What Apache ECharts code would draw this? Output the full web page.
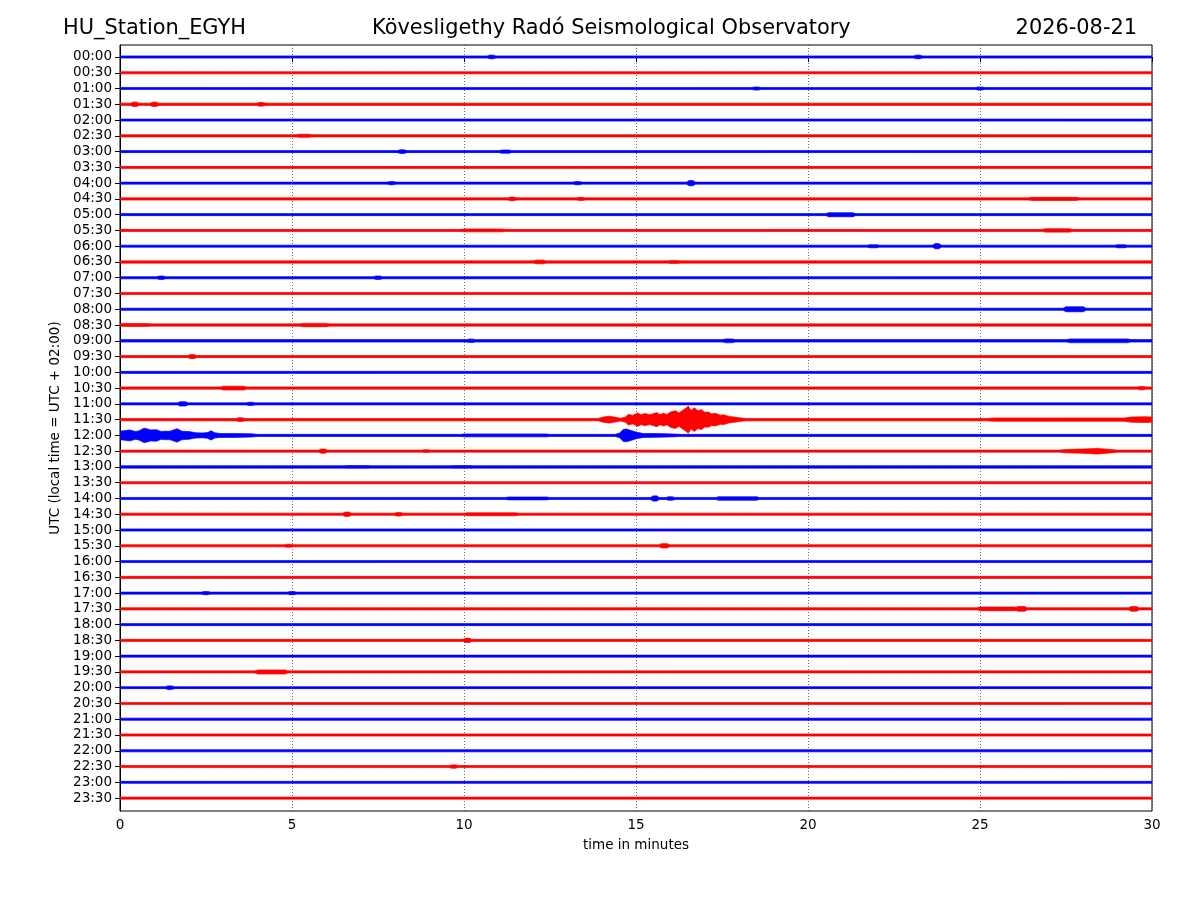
<!DOCTYPE html>
<html>
<head>
<meta charset="utf-8">
<script src="https://cdn.jsdelivr.net/npm/echarts@6/dist/echarts.min.js"></script>
<style>
html,body{margin:0;padding:0;background:#fff;}
#chart{width:1200px;height:900px;}
</style>
</head>
<body>
<div id="chart"></div>
<script>
// ---- tick labels (one trace every 30 min) ----
const traceLabels = ['00:00','00:30','01:00','01:30','02:00','02:30','03:00','03:30','04:00','04:30',
  '05:00','05:30','06:00','06:30','07:00','07:30','08:00','08:30','09:00','09:30',
  '10:00','10:30','11:00','11:30','12:00','12:30','13:00','13:30','14:00','14:30',
  '15:00','15:30','16:00','16:30','17:00','17:30','18:00','18:30','19:00','19:30',
  '20:00','20:30','21:00','21:30','22:00','22:30','23:00','23:30'];
const xTicks = [0, 5, 10, 15, 20, 25, 30];
const traceColors = ['#0000ff', '#ff0000'];

// ---- background noise half-amplitude per trace (trace spacing = 1) ----
const baseAmplitude = [0.09,0.09,0.09,0.095,0.09,0.095,0.09,0.09,0.09,0.095,
  0.09,0.095,0.09,0.1,0.09,0.095,0.09,0.1,0.1,0.095,
  0.09,0.095,0.09,0.1,0.095,0.09,0.1,0.09,0.09,0.095,
  0.09,0.09,0.09,0.09,0.09,0.095,0.09,0.09,0.09,0.09,
  0.09,0.09,0.09,0.09,0.09,0.09,0.09,0.09];

// ---- small bursts: [trace, start min, end min, half-amplitude] ----
const bumps = [
  [0,10.75,10.85,0.15],[0,23.15,23.25,0.15],
  [2,18.45,18.55,0.13],[2,24.95,25.05,0.13],
  [3,0.38,0.48,0.17],[3,0.95,1.05,0.17],[3,4.05,4.15,0.15],
  [5,5.2,5.5,0.13],
  [6,8.15,8.25,0.15],[6,11.1,11.3,0.13],
  [8,7.85,7.95,0.13],[8,13.25,13.35,0.13],[8,16.55,16.65,0.2],
  [9,11.35,11.45,0.15],[9,13.35,13.45,0.14],[9,26.5,27.8,0.13],
  [10,20.6,21.3,0.16],
  [11,10.0,11.1,0.12],[11,26.9,27.6,0.14],
  [12,21.8,22.0,0.13],[12,23.7,23.8,0.2],[12,29.0,29.2,0.13],
  [13,12.1,12.3,0.15],[13,16.0,16.2,0.13],
  [14,1.15,1.25,0.14],[14,7.45,7.55,0.14],
  [16,27.5,28.0,0.19],
  [17,0.1,0.8,0.13],[17,5.3,6.0,0.14],
  [18,10.15,10.25,0.14],[18,17.6,17.8,0.15],[18,27.6,29.3,0.15],
  [19,2.05,2.15,0.17],
  [21,3.0,3.6,0.15],[21,29.65,29.75,0.14],
  [22,1.75,1.9,0.17],[22,3.75,3.85,0.13],
  [23,3.45,3.55,0.15],
  [24,10.0,12.4,0.12],
  [25,5.85,5.95,0.17],[25,8.85,8.95,0.12],
  [26,6.6,7.2,0.12],[26,9.7,10.2,0.12],
  [28,11.3,12.4,0.12],[28,15.5,15.6,0.2],[28,15.95,16.05,0.14],[28,17.4,18.5,0.14],
  [29,6.55,6.65,0.17],[29,8.05,8.15,0.15],[29,10.1,11.5,0.12],
  [31,4.85,4.95,0.13],[31,15.75,15.9,0.17],
  [34,2.45,2.55,0.13],[34,4.95,5.05,0.13],
  [35,25.0,26.0,0.15],[35,26.1,26.3,0.18],[35,29.4,29.55,0.18],
  [37,10.05,10.15,0.17],
  [39,4.0,4.8,0.16],
  [40,1.4,1.5,0.15],
  [45,9.65,9.75,0.14]
];

// ---- larger events: [trace, [[min, half-amplitude], ...]] ----
const event1130 = [[13.9,0.1],[14.05,0.2],[14.22,0.25],[14.4,0.18],[14.55,0.12],[14.7,0.2],
  [14.78,0.38],[14.9,0.3],[15.05,0.46],[15.15,0.34],[15.25,0.42],[15.4,0.34],[15.6,0.48],[15.7,0.36],[15.8,0.44],
  [15.9,0.36],[16.0,0.52],[16.15,0.6],[16.25,0.45],[16.35,0.62],[16.45,0.76],[16.52,0.9],[16.6,0.62],[16.7,0.78],[16.8,0.6],
  [16.9,0.66],[17.0,0.5],[17.1,0.52],[17.2,0.4],[17.3,0.44],[17.45,0.32],[17.55,0.34],[17.7,0.24],[17.85,0.2],[18.0,0.15],[18.2,0.1]];
const event1130tail = [[25.2,0.1],[25.4,0.13],[29.2,0.14],[29.4,0.2],[29.8,0.22],[30,0.2]];
const event1200a = [[0,0.3],[0.15,0.34],[0.29,0.38],[0.45,0.28],[0.55,0.32],[0.7,0.49],
  [0.78,0.45],[0.9,0.38],[1.05,0.4],[1.2,0.28],[1.31,0.3],[1.45,0.3],[1.66,0.46],[1.8,0.3],
  [2.0,0.28],[2.2,0.2],[2.4,0.18],[2.55,0.22],[2.65,0.33],[2.75,0.2],[2.9,0.16],[3.3,0.16],
  [3.8,0.14],[4.0,0.095]];
const event1200b = [[14.4,0.095],[14.53,0.18],[14.62,0.4],[14.72,0.44],[14.85,0.35],[15.0,0.25],
  [15.2,0.16],[15.6,0.15],[15.9,0.13],[16.3,0.095]];
const event1230 = [[27.3,0.09],[27.5,0.14],[28.0,0.17],[28.4,0.21],[28.7,0.16],[29.0,0.09]];
const bigEvents = [[23, event1130], [23, event1130tail], [24, event1200a], [24, event1200b], [25, event1230]];

function buildEnvelope(i) {
  const base = baseAmplitude[i];
  const segs = [];
  bumps.forEach(function (b) {
    if (b[0] === i) segs.push([[b[1] - 0.08, base], [b[1], b[3]], [b[2], b[3]], [b[2] + 0.08, base]]);
  });
  bigEvents.forEach(function (e) { if (e[0] === i) segs.push(e[1]); });
  segs.sort(function (a, b) { return a[0][0] - b[0][0]; });
  let pts = [];
  if (!segs.length || segs[0][0][0] > 0) pts.push([0, base]);
  segs.forEach(function (s) { pts = pts.concat(s); });
  if (pts[pts.length - 1][0] < 30) pts.push([30, base]);
  return pts;
}
const envelopes = traceLabels.map(function (_, i) { return buildEnvelope(i); });

const chart = echarts.init(document.getElementById('chart'), null, {renderer: 'canvas'});
const font = 'DejaVu Sans';
const titleStyle = {fontFamily: font, fontSize: 20.9, fontWeight: 'normal', color: '#000'};
chart.setOption({
  backgroundColor: '#ffffff',
  animation: false,
  title: [
    {text: 'HU_Station_EGYH', left: 63, top: 18, padding: 0, textStyle: titleStyle},
    {text: 'Kövesligethy Radó Seismological Observatory', left: 372, top: 18, padding: 0, textStyle: titleStyle},
    {text: '2026-08-21', right: 63, top: 18, padding: 0, textStyle: titleStyle}
  ],
  grid: {left: 120, right: 48, top: 45, bottom: 89, show: true, borderColor: '#000', borderWidth: 1, backgroundColor: 'transparent'},
  xAxis: {
    type: 'value', min: 0, max: 30, interval: 5,
    name: 'time in minutes', nameLocation: 'middle', nameGap: 27,
    nameTextStyle: {fontFamily: font, fontSize: 13.5, color: '#000'},
    axisLine: {show: true, lineStyle: {color: '#000', width: 1}},
    axisTick: {show: true, inside: false, length: 5, lineStyle: {color: '#000'}},
    axisLabel: {fontFamily: font, fontSize: 13.5, color: '#000', margin: 7,
      formatter: function (v) { return xTicks.indexOf(v) >= 0 ? String(v) : ''; }},
    splitLine: {show: true, lineStyle: {color: '#444', width: 0.8, type: [1, 2]}}
  },
  yAxis: {
    type: 'value', inverse: true, min: -0.76, max: 47.82,
    name: 'UTC (local time = UTC + 02:00)', nameLocation: 'middle', nameGap: 54, nameRotate: 90,
    nameTextStyle: {fontFamily: font, fontSize: 13.5, color: '#000'},
    axisLine: {show: true, lineStyle: {color: '#000', width: 1}},
    axisTick: {show: true, inside: false, length: 5, lineStyle: {color: '#000'},
      customValues: traceLabels.map(function (_, i) { return i; })},
    axisLabel: {fontFamily: font, fontSize: 13.5, color: '#000', margin: 8,
      customValues: traceLabels.map(function (_, i) { return i; }),
      formatter: function (v) { return traceLabels[Math.round(v)] || ''; }},
    splitLine: {show: false}
  },
  series: [{
    type: 'custom',
    clip: true,
    data: traceLabels.map(function (_, i) { return [0, i]; }),
    renderItem: function (params, api) {
      const i = api.value(1);
      const env = envelopes[i];
      const color = traceColors[i % 2];
      // light outer fringe (full envelope) + solid inner core
      const haloUp = env.map(function (p) { return api.coord([p[0], i - p[1]]); });
      const haloDn = env.slice().reverse().map(function (p) { return api.coord([p[0], i + p[1]]); });
      const coreUp = env.map(function (p) { return api.coord([p[0], i - Math.max(p[1] - 0.035, p[1] * 0.75)]); });
      const coreDn = env.slice().reverse().map(function (p) { return api.coord([p[0], i + Math.max(p[1] - 0.035, p[1] * 0.75)]); });
      return {
        type: 'group',
        children: [
          {type: 'polygon', shape: {points: haloUp.concat(haloDn)}, style: {fill: color, opacity: 0.45}},
          {type: 'polygon', shape: {points: coreUp.concat(coreDn)}, style: {fill: color, stroke: color, lineWidth: 0.4}}
        ]
      };
    }
  }]
});
</script>
</body>
</html>
